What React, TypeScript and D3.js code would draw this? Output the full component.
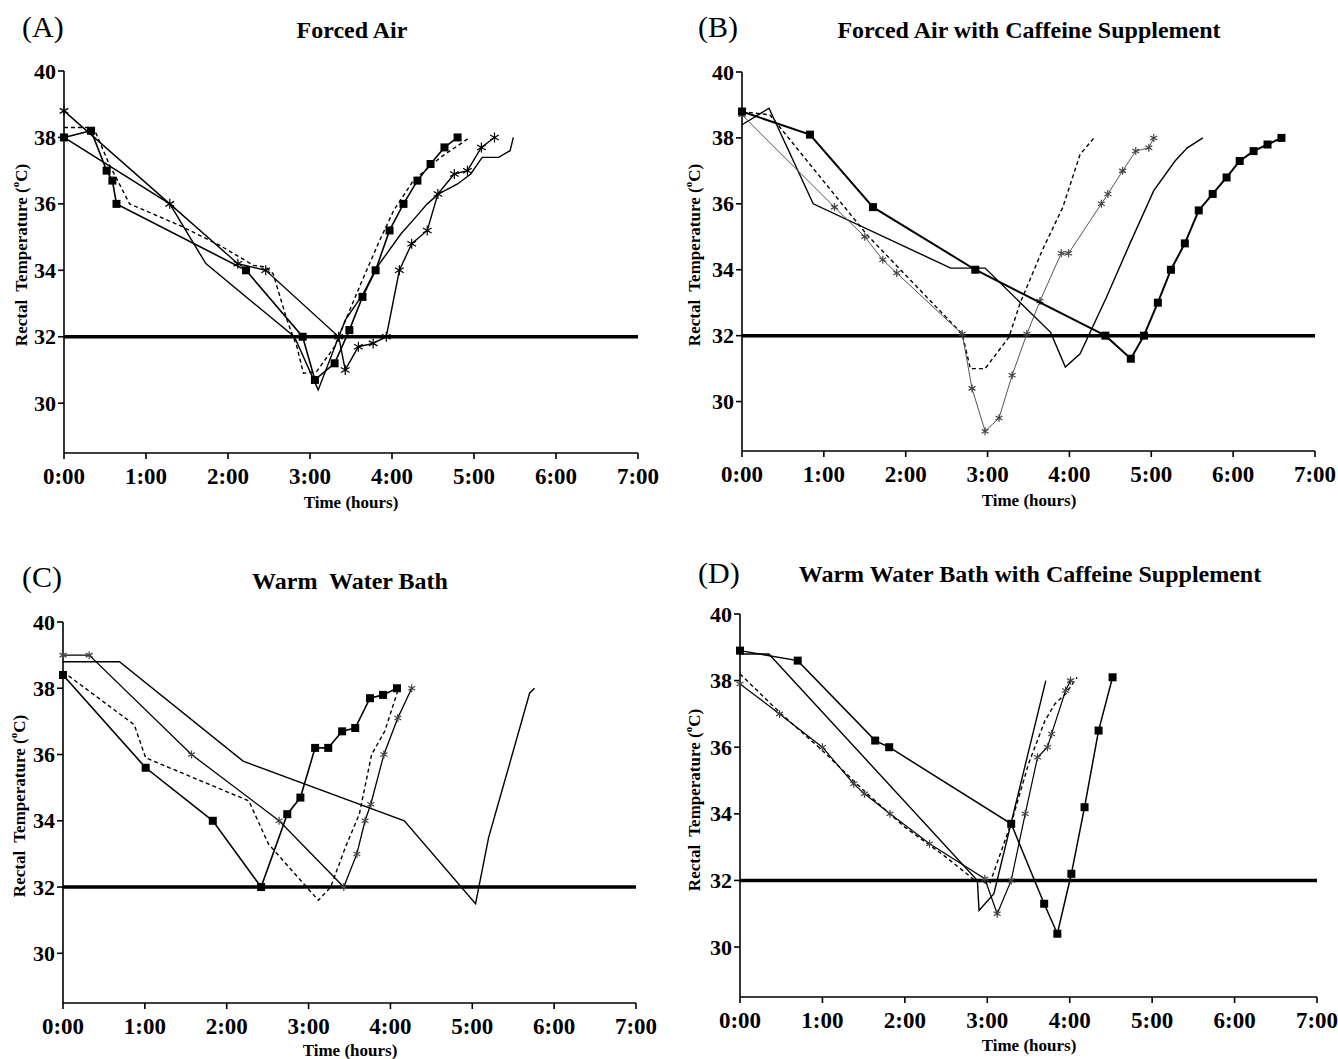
import * as d3 from "d3";

type Pt = [number, number];

const HOURS = [0, 1, 2, 3, 4, 5, 6, 7];
const HOUR_LABELS = ["0:00", "1:00", "2:00", "3:00", "4:00", "5:00", "6:00", "7:00"];
const TEMP_TICKS = [30, 32, 34, 36, 38, 40];
const TEMP_MIN = 28.5;
const TEMP_MAX = 40;
const CUTOFF = 32;

// (A) Forced Air
const A_SQUARE: Pt[] = [[0, 38.0], [0.33, 38.2], [0.52, 37.0], [0.59, 36.7], [0.64, 36.0], [2.22, 34.0], [2.91, 32.0], [3.06, 30.7], [3.30, 31.2], [3.48, 32.2], [3.64, 33.2], [3.80, 34.0], [3.97, 35.2], [4.14, 36.0], [4.31, 36.7], [4.47, 37.2], [4.64, 37.7], [4.80, 38.0]];
const A_STAR: Pt[] = [[0, 38.8], [1.29, 36.0], [2.12, 34.2], [2.46, 34.0], [3.35, 32.0], [3.43, 31.0], [3.59, 31.7], [3.77, 31.8], [3.93, 32.0], [4.09, 34.0], [4.24, 34.8], [4.43, 35.2], [4.56, 36.3], [4.76, 36.9], [4.92, 37.0], [5.09, 37.7], [5.25, 38.0]];
const A_PLAIN: Pt[] = [[0, 38.0], [1.29, 36.0], [1.73, 34.2], [2.81, 32.0], [3.10, 30.4], [3.35, 32.0], [3.43, 32.5], [3.65, 33.3], [3.81, 34.07], [4.11, 35.1], [4.29, 35.6], [4.43, 36.0], [4.57, 36.3], [4.80, 36.6], [4.96, 36.9], [5.10, 37.4], [5.30, 37.4], [5.44, 37.6], [5.48, 38.0]];
const A_DASHED: Pt[] = [[0, 38.3], [0.36, 38.3], [0.55, 37.2], [0.8, 36.0], [1.41, 35.35], [1.9, 34.75], [2.31, 34.15], [2.46, 34.1], [2.55, 33.9], [2.72, 32.5], [2.84, 31.7], [2.92, 30.9], [3.08, 30.95], [3.3, 31.7], [3.62, 33.6], [3.85, 34.9], [4.02, 35.8], [4.26, 36.7], [4.59, 37.4], [4.95, 38.0]];

// (B) Forced Air with Caffeine Supplement
const B_SQUARE: Pt[] = [[0, 38.8], [0.83, 38.1], [1.6, 35.9], [2.85, 34.0], [4.44, 32.0], [4.75, 31.3], [4.91, 32.0], [5.08, 33.0], [5.24, 34.0], [5.41, 34.8], [5.58, 35.8], [5.75, 36.3], [5.92, 36.8], [6.08, 37.3], [6.25, 37.6], [6.42, 37.8], [6.59, 38.0]];
const B_STAR: Pt[] = [[0, 38.7], [1.13, 35.9], [1.5, 35.0], [1.72, 34.3], [1.89, 33.9], [2.69, 32.05], [2.81, 30.4], [2.97, 29.1], [3.14, 29.5], [3.30, 30.8], [3.48, 32.05], [3.64, 33.05], [3.90, 34.5], [3.99, 34.5], [4.39, 36.0], [4.47, 36.3], [4.65, 37.0], [4.81, 37.6], [4.97, 37.7], [5.03, 38.0]];
const B_PLAIN: Pt[] = [[0, 38.4], [0.33, 38.9], [0.87, 36.0], [2.55, 34.05], [2.97, 34.05], [3.77, 32.1], [3.95, 31.05], [4.13, 31.45], [4.45, 33.15], [4.74, 34.8], [5.03, 36.4], [5.29, 37.3], [5.44, 37.7], [5.63, 38.0]];
const B_DASHED: Pt[] = [[0, 38.8], [0.34, 38.7], [1.53, 35.05], [2.69, 32.05], [2.79, 31.0], [2.97, 31.0], [3.26, 31.95], [3.40, 33.0], [3.67, 34.6], [3.92, 35.9], [4.13, 37.5], [4.3, 38.0]];

// (C) Warm Water Bath
const C_SQUARE: Pt[] = [[0, 38.4], [1.01, 35.6], [1.83, 34.0], [2.42, 32.0], [2.74, 34.2], [2.90, 34.7], [3.08, 36.2], [3.24, 36.2], [3.41, 36.7], [3.57, 36.8], [3.75, 37.7], [3.91, 37.8], [4.08, 38.0]];
const C_STAR: Pt[] = [[0, 39.0], [0.32, 39.0], [1.57, 36.0], [2.64, 34.0], [3.43, 32.0], [3.59, 33.0], [3.69, 34.0], [3.76, 34.5], [3.92, 36.0], [4.09, 37.1], [4.26, 38.0]];
const C_PLAIN: Pt[] = [[0, 38.8], [0.69, 38.8], [2.2, 35.8], [4.17, 34.0], [5.04, 31.5], [5.2, 33.5], [5.35, 34.8], [5.58, 36.8], [5.70, 37.85], [5.76, 38.0]];
const C_DASHED: Pt[] = [[0, 38.5], [0.87, 36.9], [1.01, 35.9], [2.27, 34.6], [2.51, 33.3], [2.94, 32.1], [3.12, 31.6], [3.27, 32.0], [3.45, 33.2], [3.62, 34.2], [3.77, 36.0], [3.93, 36.7], [4.1, 38.0]];

// (D) Warm Water Bath with Caffeine Supplement
const D_SQUARE: Pt[] = [[0, 38.9], [0.70, 38.6], [1.64, 36.2], [1.81, 36.0], [3.29, 33.7], [3.69, 31.3], [3.85, 30.4], [4.02, 32.2], [4.18, 34.2], [4.35, 36.5], [4.52, 38.1]];
const D_STAR: Pt[] = [[0, 37.9], [0.48, 37.0], [1.0, 36.0], [1.38, 34.9], [1.51, 34.6], [1.82, 34.0], [2.3, 33.1], [2.97, 32.05], [3.12, 31.0], [3.29, 32.0], [3.46, 34.0], [3.61, 35.7], [3.73, 36.0], [3.78, 36.4], [3.95, 37.7], [4.01, 38.0]];
const D_PLAIN: Pt[] = [[0, 38.8], [0.35, 38.8], [2.88, 32.0], [2.90, 31.1], [3.08, 31.6], [3.71, 38.0]];
const D_DASHED: Pt[] = [[0, 38.2], [0.5, 37.0], [1.0, 35.9], [1.5, 34.7], [2.0, 33.6], [2.5, 32.7], [2.85, 32.0], [3.03, 31.9], [3.3, 33.8], [3.5, 35.5], [3.7, 36.8], [3.82, 37.3], [3.95, 37.6], [4.09, 38.1]];

const FONT = "'Liberation Serif', 'Times New Roman', serif";

type Kind = "square" | "star" | "plain" | "dashed";

interface Series {
  pts: Pt[];
  kind: Kind;
}

interface PanelProps {
  letter: string;
  title: string;
  series: Series[];
  x0: number;
  x1: number;
  yTop: number;
  yBottom: number;
  letterX: number;
  letterY: number;
  titleX: number;
  titleY: number;
  xTitleX: number;
  xTitleY: number;
  yTitleX: number;
  yTitleY: number;
  starColor: string;
  starR: number;
  starLine: string;
  starWidth: number;
  squareWidth: number;
}

// 6-armed asterisk
function starPath(r: number) {
  return [90, 30, 150]
    .map((deg) => {
      const a = (deg * Math.PI) / 180;
      const dx = r * Math.cos(a);
      const dy = r * Math.sin(a);
      return `M${-dx},${-dy}L${dx},${dy}`;
    })
    .join("");
}

function Panel(p: PanelProps) {
  const x = d3.scaleLinear().domain([0, 7]).range([p.x0, p.x1]);
  const y = d3.scaleLinear().domain([TEMP_MIN, TEMP_MAX]).range([p.yBottom, p.yTop]);
  const line = d3
    .line<Pt>()
    .x((d) => x(d[0]))
    .y((d) => y(d[1]));

  return (
    <g fontFamily={FONT}>
      <text x={p.letterX} y={p.letterY} fontSize={30}>
        {p.letter}
      </text>
      <text x={p.titleX} y={p.titleY} fontSize={24} fontWeight="bold" textAnchor="middle" style={{ whiteSpace: "pre" }}>
        {p.title}
      </text>

      {/* axes */}
      <line x1={p.x0} x2={p.x0} y1={y(TEMP_MAX)} y2={p.yBottom} stroke="#000" strokeWidth={1.6} />
      <line x1={p.x0} x2={p.x1} y1={p.yBottom} y2={p.yBottom} stroke="#000" strokeWidth={1.6} />
      {TEMP_TICKS.map((t) => (
        <g key={t}>
          <line x1={p.x0 - 6} x2={p.x0} y1={y(t)} y2={y(t)} stroke="#000" strokeWidth={1.6} />
          <text x={p.x0 - 8} y={y(t) + 7.5} fontSize={22} fontWeight="bold" textAnchor="end">
            {t}
          </text>
        </g>
      ))}
      {HOURS.map((h, i) => (
        <g key={h}>
          <line x1={x(h)} x2={x(h)} y1={p.yBottom} y2={p.yBottom + 6} stroke="#000" strokeWidth={1.6} />
          <text x={x(h)} y={p.yBottom + 31} fontSize={23} fontWeight="bold" textAnchor="middle">
            {HOUR_LABELS[i]}
          </text>
        </g>
      ))}
      <text x={p.xTitleX} y={p.xTitleY} fontSize={17} fontWeight="bold" textAnchor="middle">
        Time (hours)
      </text>
      <text
        transform={`translate(${p.yTitleX},${p.yTitleY}) rotate(-90)`}
        fontSize={17}
        fontWeight="bold"
        textAnchor="middle"
        dominantBaseline="central"
        style={{ whiteSpace: "pre" }}
      >
        {"Rectal  Temperature ("}
        <tspan dy={-6} fontSize={11}>o</tspan>
        <tspan dy={6}>C)</tspan>
      </text>

      {/* 32 degC reference */}
      <line x1={p.x0} x2={p.x1} y1={y(CUTOFF)} y2={y(CUTOFF)} stroke="#000" strokeWidth={3.5} />

      {p.series.map((s, i) => {
        const stroke = s.kind === "star" ? p.starLine : "#000";
        const width = s.kind === "square" ? p.squareWidth : s.kind === "star" ? p.starWidth : 1.4;
        return (
          <g key={i}>
            <path
              d={line(s.pts) ?? ""}
              fill="none"
              stroke={stroke}
              strokeWidth={width}
              strokeDasharray={s.kind === "dashed" ? "4,3" : undefined}
            />
            {s.kind === "square" &&
              s.pts.map((d, j) => (
                <rect key={j} x={x(d[0]) - 4} y={y(d[1]) - 4} width={8} height={8} fill="#000" />
              ))}
            {s.kind === "star" &&
              s.pts.map((d, j) => (
                <path
                  key={j}
                  d={starPath(p.starR)}
                  transform={`translate(${x(d[0])},${y(d[1])})`}
                  stroke={p.starColor}
                  strokeWidth={1.2}
                  fill="none"
                />
              ))}
          </g>
        );
      })}
    </g>
  );
}

export default function App() {
  return (
    <svg
      width={1338}
      height={1059}
      viewBox="0 0 1338 1059"
      style={{ position: "absolute", left: 0, top: 0, background: "#fff" }}
    >
      <rect width={1338} height={1059} fill="#fff" />
      <Panel
        letter="(A)"
        title="Forced Air"
        series={[
          { pts: A_PLAIN, kind: "plain" },
          { pts: A_DASHED, kind: "dashed" },
          { pts: A_STAR, kind: "star" },
          { pts: A_SQUARE, kind: "square" },
        ]}
        x0={64}
        x1={638}
        yTop={71}
        yBottom={453}
        letterX={22}
        letterY={37}
        titleX={352}
        titleY={38}
        xTitleX={351}
        xTitleY={508}
        yTitleX={21}
        yTitleY={255}
        starColor="#000"
        starR={5}
        starLine="#000"
        starWidth={1.4}
        squareWidth={1.6}
      />
      <Panel
        letter="(B)"
        title="Forced Air with Caffeine Supplement"
        series={[
          { pts: B_PLAIN, kind: "plain" },
          { pts: B_DASHED, kind: "dashed" },
          { pts: B_STAR, kind: "star" },
          { pts: B_SQUARE, kind: "square" },
        ]}
        x0={742}
        x1={1315}
        yTop={72}
        yBottom={451}
        letterX={698}
        letterY={37}
        titleX={1029}
        titleY={38}
        xTitleX={1029}
        xTitleY={506}
        yTitleX={694}
        yTitleY={255}
        starColor="#444"
        starR={4}
        starLine="#555"
        starWidth={1}
        squareWidth={2}
      />
      <Panel
        letter="(C)"
        title="Warm  Water Bath"
        series={[
          { pts: C_PLAIN, kind: "plain" },
          { pts: C_DASHED, kind: "dashed" },
          { pts: C_STAR, kind: "star" },
          { pts: C_SQUARE, kind: "square" },
        ]}
        x0={63}
        x1={636}
        yTop={622}
        yBottom={1003}
        letterX={22}
        letterY={587}
        titleX={350}
        titleY={589}
        xTitleX={350}
        xTitleY={1056}
        yTitleX={19}
        yTitleY={806}
        starColor="#444"
        starR={4}
        starLine="#000"
        starWidth={1.3}
        squareWidth={1.6}
      />
      <Panel
        letter="(D)"
        title="Warm Water Bath with Caffeine Supplement"
        series={[
          { pts: D_PLAIN, kind: "plain" },
          { pts: D_DASHED, kind: "dashed" },
          { pts: D_STAR, kind: "star" },
          { pts: D_SQUARE, kind: "square" },
        ]}
        x0={740}
        x1={1317}
        yTop={614}
        yBottom={997}
        letterX={698}
        letterY={583}
        titleX={1030}
        titleY={582}
        xTitleX={1029}
        xTitleY={1051}
        yTitleX={694}
        yTitleY={800}
        starColor="#444"
        starR={4}
        starLine="#000"
        starWidth={1.2}
        squareWidth={1.5}
      />
    </svg>
  );
}
